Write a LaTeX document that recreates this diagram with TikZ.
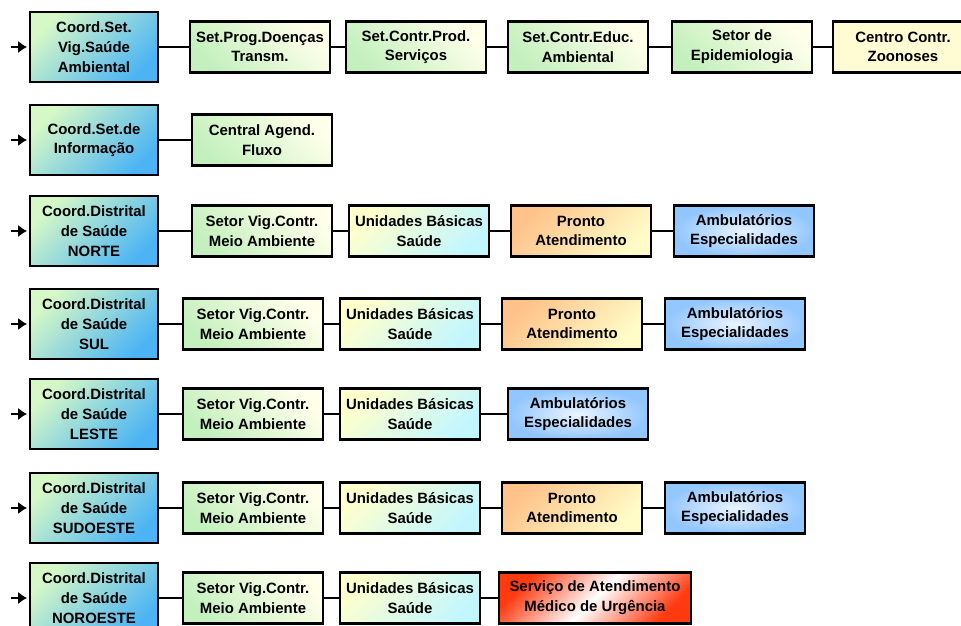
\documentclass[tikz,border=0pt]{standalone}
\usepackage{fontspec}
\setmainfont{Liberation Sans}
\usetikzlibrary{arrows.meta}

\definecolor{coordGreen}{HTML}{D6F8C6}
\definecolor{coordBlue}{HTML}{4CB4F4}
\definecolor{setGreen}{HTML}{C4F0BE}
\definecolor{setCream}{HTML}{FFFFEA}
\definecolor{unidYellow}{HTML}{FFFFCC}
\definecolor{unidCyan}{HTML}{C2F6FF}
\definecolor{prontoOrange}{HTML}{FFC28A}
\definecolor{prontoYellow}{HTML}{FFFCC8}
\definecolor{ambBlue}{HTML}{92C6FF}
\definecolor{ambLight}{HTML}{EAF4FF}
\definecolor{samuRed}{HTML}{FF3A10}
\definecolor{zoonCream}{HTML}{FFFCD4}

\tikzset{
	box/.style = {draw, line width = 1.4pt, align = center, inner sep = 1pt,
		font = \fontsize{8.5}{11.2}\selectfont\bfseries,
		minimum width = 2.8cm, minimum height = 1.02cm},
	coordBox/.style = {box, minimum width = 2.56cm, minimum height = 1.4cm,
		top color = coordGreen, bottom color = coordBlue, shading angle = 45},
	setorBox/.style = {box, top color = setCream, bottom color = setGreen, shading angle = -45},
	zoonBox/.style = {box, fill = zoonCream},
	unidBox/.style = {box, top color = unidYellow, bottom color = unidCyan, shading angle = 45},
	prontoBox/.style = {box, top color = prontoOrange, bottom color = prontoYellow, shading angle = 45},
	ambBox/.style = {box, inner color = ambLight, outer color = ambBlue},
	samuBox/.style = {box, minimum width = 3.84cm, top color = samuRed, bottom color = samuRed,
		middle color = white, shading angle = 45}
}

\begin{document}
\begin{tikzpicture}[x = 0.02cm, y = -0.02cm, line width = 1.5pt]
	\useasboundingbox (0,0) rectangle (961,626);

	\def\yAmbiental{47};
	\def\yInformacao{140};
	\def\yNorte{231};
	\def\ySul{324};
	\def\yLeste{414};
	\def\ySudoeste{508};
	\def\yNoroeste{598};

	\newcommand{\drawLink}[2]
	{
		\draw (#1.east) -- (#2.west)
	}

	\newcommand{\drawEntry}[1]
	{
		\draw [-{Latex[length = 5pt, width = 7pt]}] ([xshift = -10pt]#1.west) -- ([xshift = -1pt]#1.west)
	}

	% vigilancia ambiental
	\begin{scope}
		\node [coordBox] (coordAmb) at (94,\yAmbiental) {Coord.Set.\\Vig.Saúde\\Ambiental};
		\node [setorBox] (progDoen) at (260,\yAmbiental) {Set.Prog.Doenças\\Transm.};
		\node [setorBox] (contrProd) at (416,\yAmbiental) {Set.Contr.Prod.\\Serviços};
		\node [setorBox] (contrEduc) at (578,\yAmbiental) {Set.Contr.Educ.\\Ambiental};
		\node [setorBox] (epidemio) at (742,\yAmbiental) {Setor de\\Epidemiologia};
		\node [zoonBox] (zoonoses) at (903,\yAmbiental) {Centro Contr.\\Zoonoses};

		\drawEntry{coordAmb};
		\drawLink{coordAmb}{progDoen};
		\drawLink{progDoen}{contrProd};
		\drawLink{contrProd}{contrEduc};
		\drawLink{contrEduc}{epidemio};
		\drawLink{epidemio}{zoonoses};
	\end{scope}

	% informacao
	\begin{scope}
		\node [coordBox] (coordInf) at (94,\yInformacao) {Coord.Set.de\\Informação};
		\node [setorBox] (agendFluxo) at (262,\yInformacao) {Central Agend.\\Fluxo};

		\drawEntry{coordInf};
		\drawLink{coordInf}{agendFluxo};
	\end{scope}

	% norte
	\begin{scope}
		\node [coordBox] (coordNorte) at (94,\yNorte) {Coord.Distrital\\de Saúde\\NORTE};
		\node [setorBox] (vigNorte) at (262,\yNorte) {Setor Vig.Contr.\\Meio Ambiente};
		\node [unidBox] (unidNorte) at (419,\yNorte) {Unidades Básicas\\Saúde};
		\node [prontoBox] (prontoNorte) at (581,\yNorte) {Pronto\\Atendimento};
		\node [ambBox] (ambNorte) at (744,\yNorte) {Ambulatórios\\Especialidades};

		\drawEntry{coordNorte};
		\drawLink{coordNorte}{vigNorte};
		\drawLink{vigNorte}{unidNorte};
		\drawLink{unidNorte}{prontoNorte};
		\drawLink{prontoNorte}{ambNorte};
	\end{scope}

	% sul
	\begin{scope}
		\node [coordBox] (coordSul) at (94,\ySul) {Coord.Distrital\\de Saúde\\SUL};
		\node [setorBox] (vigSul) at (253,\ySul) {Setor Vig.Contr.\\Meio Ambiente};
		\node [unidBox] (unidSul) at (410,\ySul) {Unidades Básicas\\Saúde};
		\node [prontoBox] (prontoSul) at (572,\ySul) {Pronto\\Atendimento};
		\node [ambBox] (ambSul) at (735,\ySul) {Ambulatórios\\Especialidades};

		\drawEntry{coordSul};
		\drawLink{coordSul}{vigSul};
		\drawLink{vigSul}{unidSul};
		\drawLink{unidSul}{prontoSul};
		\drawLink{prontoSul}{ambSul};
	\end{scope}

	% leste
	\begin{scope}
		\node [coordBox] (coordLeste) at (94,\yLeste) {Coord.Distrital\\de Saúde\\LESTE};
		\node [setorBox] (vigLeste) at (253,\yLeste) {Setor Vig.Contr.\\Meio Ambiente};
		\node [unidBox] (unidLeste) at (410,\yLeste) {Unidades Básicas\\Saúde};
		\node [ambBox] (ambLeste) at (578,\yLeste) {Ambulatórios\\Especialidades};

		\drawEntry{coordLeste};
		\drawLink{coordLeste}{vigLeste};
		\drawLink{vigLeste}{unidLeste};
		\drawLink{unidLeste}{ambLeste};
	\end{scope}

	% sudoeste
	\begin{scope}
		\node [coordBox] (coordSudoeste) at (94,\ySudoeste) {Coord.Distrital\\de Saúde\\SUDOESTE};
		\node [setorBox] (vigSudoeste) at (253,\ySudoeste) {Setor Vig.Contr.\\Meio Ambiente};
		\node [unidBox] (unidSudoeste) at (410,\ySudoeste) {Unidades Básicas\\Saúde};
		\node [prontoBox] (prontoSudoeste) at (572,\ySudoeste) {Pronto\\Atendimento};
		\node [ambBox] (ambSudoeste) at (735,\ySudoeste) {Ambulatórios\\Especialidades};

		\drawEntry{coordSudoeste};
		\drawLink{coordSudoeste}{vigSudoeste};
		\drawLink{vigSudoeste}{unidSudoeste};
		\drawLink{unidSudoeste}{prontoSudoeste};
		\drawLink{prontoSudoeste}{ambSudoeste};
	\end{scope}

	% noroeste
	\begin{scope}
		\node [coordBox] (coordNoroeste) at (94,\yNoroeste) {Coord.Distrital\\de Saúde\\NOROESTE};
		\node [setorBox] (vigNoroeste) at (253,\yNoroeste) {Setor Vig.Contr.\\Meio Ambiente};
		\node [unidBox] (unidNoroeste) at (410,\yNoroeste) {Unidades Básicas\\Saúde};
		\node [samuBox] (samuNoroeste) at (595,\yNoroeste) {Serviço de Atendimento\\Médico de Urgência};

		\drawEntry{coordNoroeste};
		\drawLink{coordNoroeste}{vigNoroeste};
		\drawLink{vigNoroeste}{unidNoroeste};
		\drawLink{unidNoroeste}{samuNoroeste};
	\end{scope}
\end{tikzpicture}
\end{document}
